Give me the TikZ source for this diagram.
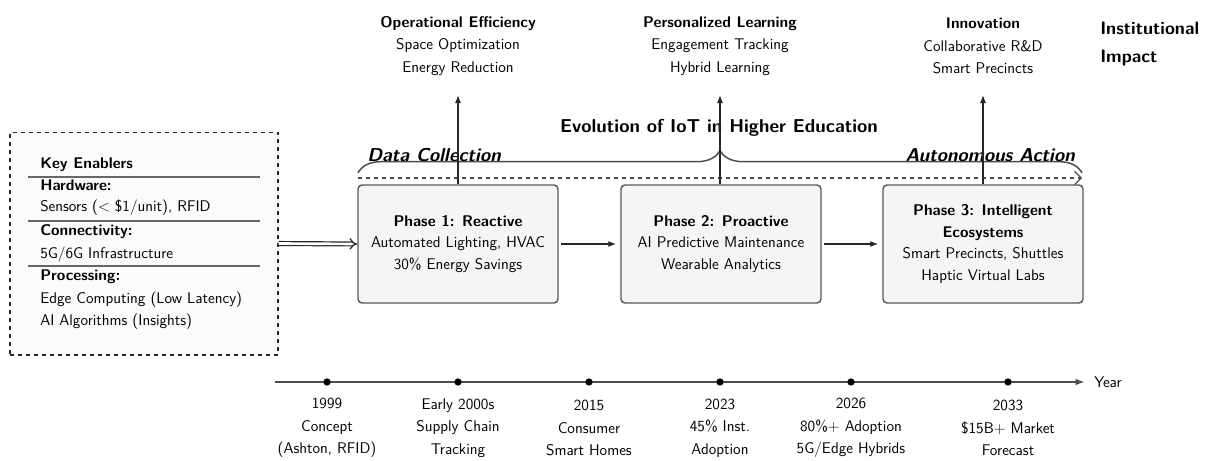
\documentclass[tikz,border=0pt]{standalone}
\usepackage{fontspec}
\usetikzlibrary{arrows.meta,decorations.pathreplacing}
\renewcommand{\familydefault}{\sfdefault}
\begin{document}
\begin{tikzpicture}[x=0.75pt,y=-0.75pt,
  font=\sffamily\fontsize{11.6}{16.8}\selectfont,
  phasebox/.style={draw=black!65, line width=1.1pt, fill=black!4, rounded corners=3pt,
    minimum width=150pt, minimum height=88.5pt, align=center, inner sep=2pt,
    font=\sffamily\fontsize{11.6}{16.2}\selectfont},
  impact/.style={align=center, inner sep=0pt},
  row/.style={anchor=west, inner sep=0pt, text height=8pt, text depth=2.5pt},
  rowhead/.style={row, font=\sffamily\bfseries\fontsize{11.6}{13}\selectfont},
  sepline/.style={draw=black!60, line width=1.1pt},
  arr/.style={-{Latex[length=6pt,width=4.5pt]}, line width=0.9pt, draw=black!85},
  dblarr/.style={double=white, double distance=2pt, line width=0.9pt, draw=black!85, -{Implies[length=5pt]}},
  bracestyle/.style={decorate, decoration={brace, amplitude=17pt}, line width=1.1pt, draw=black!70},
  bracelabel/.style={inner sep=0pt, font=\sffamily\bfseries\itshape\fontsize{14}{16}\selectfont},
  titlestyle/.style={inner sep=0pt, font=\sffamily\bfseries\fontsize{14}{16}\selectfont},
  tline/.style={line width=1.4pt, draw=black!70, -{Latex[length=7pt,width=5pt]}},
  tdot/.style={circle, fill=black, inner sep=0pt, minimum size=5.5pt},
  tlabel/.style={align=center, inner sep=0pt}
]
\useasboundingbox (0,0) rectangle (1208,461);

% ---------- Key enablers panel ----------
\node[draw=black!85, dashed, line width=1pt, fill=black!1.5, minimum width=201pt,
      minimum height=167pt, inner sep=0pt] (enab) at (144,243.5) {};
\node[rowhead] (ke) at (40,165) {Key Enablers};
\draw[sepline] (28,177) -- (260,177);
\node[rowhead] (hw) at (40,187) {Hardware:};
\node[row] (hw1) at (40,208) {Sensors (< \$1/unit), RFID};
\draw[sepline] (28,221) -- (260,221);
\node[rowhead] (cn) at (40,232) {Connectivity:};
\node[row] (cn1) at (40,255) {5G/6G Infrastructure};
\draw[sepline] (28,266) -- (260,266);
\node[rowhead] (pr) at (40,277) {Processing:};
\node[row] (pr1) at (40,300) {Edge Computing (Low Latency)};
\node[row] (pr2) at (40,322) {AI Algorithms (Insights)};

% ---------- Phases ----------
\node[phasebox] (p1) at (458,244) {\textbf{Phase 1: Reactive}\\Automated Lighting, HVAC\\30\% Energy Savings};
\node[phasebox] (p2) at (721,244) {\textbf{Phase 2: Proactive}\\AI Predictive Maintenance\\Wearable Analytics};
\node[phasebox] (p3) at (983,244) {\textbf{Phase 3: Intelligent}\\\textbf{Ecosystems}\\Smart Precincts, Shuttles\\Haptic Virtual Labs};

\draw[dblarr] (enab.east) -- (p1.west);
\draw[arr, shorten <=2pt, shorten >=3pt] (p1.east) -- (p2.west);
\draw[arr, shorten <=2pt, shorten >=3pt] (p2.east) -- (p3.west);

% ---------- Progression band ----------
\coordinate (dl) at (358,178);
\coordinate (dr) at (1082,178);
\draw[dashed, line width=0.9pt, draw=black!70, -{Straight Barb[length=5pt]}] (dl) -- (dr);

\coordinate (bl) at (358,173);
\coordinate (br) at (1082,173);
\draw[bracestyle] (bl) -- (br);
\node[bracelabel, anchor=base west] (dc) at (367,161) {Data Collection};
\node[bracelabel, anchor=base east] (aa) at (1075,161) {Autonomous Action};

\node[titlestyle] (title) at (719,128) {Evolution of IoT in Higher Education};

% ---------- Institutional impact ----------
\node[impact] (imp1) at (458,46) {\textbf{Operational Efficiency}\\Space Optimization\\Energy Reduction};
\node[impact] (imp2) at (720,46) {\textbf{Personalized Learning}\\Engagement Tracking\\Hybrid Learning};
\node[impact] (imp3) at (983,46) {\textbf{Innovation}\\Collaborative R\&D\\Smart Precincts};
\node[anchor=west, align=left, inner sep=0pt, font=\sffamily\bfseries\fontsize{13.5}{21}\selectfont]
  (inst) at (1100,44) {Institutional\\Impact};

\coordinate (u1) at (458,95);
\coordinate (u2) at (720,95);
\coordinate (u3) at (983,95);
\draw[arr] (p1.north) -- (u1);
\draw[arr] (p2.north -| u2) -- (u2);
\draw[arr] (p3.north) -- (u3);

% ---------- Timeline ----------
\coordinate (t0) at (275,382);
\coordinate (t1) at (1085,382);
\draw[tline] (t0) -- (t1);
\node[anchor=west, inner sep=0pt] (yr) at (1094,382) {Year};

\node[tdot] (d1) at (327,382) {};
\node[tdot] (d2) at (458,382) {};
\node[tdot] (d3) at (589,382) {};
\node[tdot] (d4) at (720,382) {};
\node[tdot] (d5) at (851,382) {};
\node[tdot] (d6) at (1008,382) {};

\node[tlabel] (l1) at (327,428) {1999\\Concept\\(Ashton, RFID)};
\node[tlabel] (l2) at (458,428) {Early 2000s\\Supply Chain\\Tracking};
\node[tlabel] (l3) at (589,428) {2015\\Consumer\\Smart Homes};
\node[tlabel] (l4) at (720,428) {2023\\45\% Inst.\\Adoption};
\node[tlabel] (l5) at (851,428) {2026\\80\%+ Adoption\\5G/Edge Hybrids};
\node[tlabel] (l6) at (1008,428) {2033\\\$15B+ Market\\Forecast};
\end{tikzpicture}
\end{document}
